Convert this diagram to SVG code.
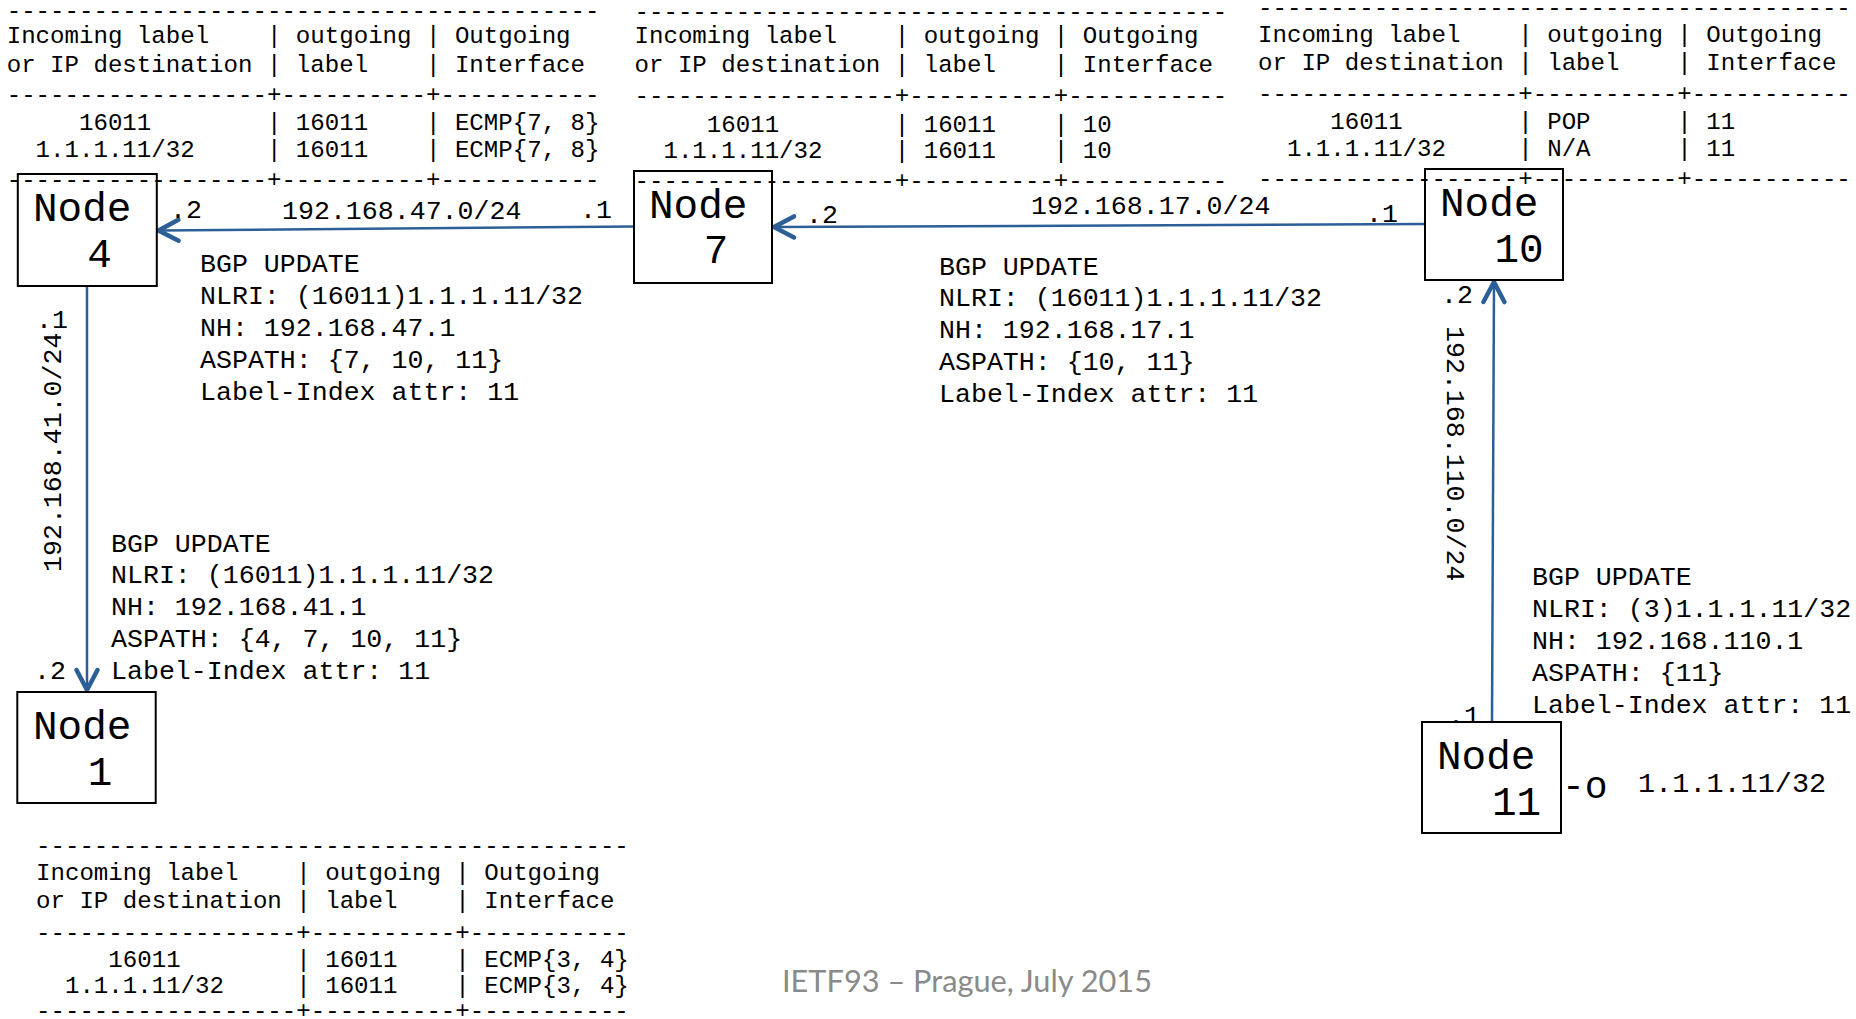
<svg xmlns="http://www.w3.org/2000/svg" width="1856" height="1019" viewBox="0 0 1856 1019">
<style>
.tb{font-family:"Liberation Mono","DejaVu Sans Mono",monospace;font-size:24.1px;fill:#000;white-space:pre}
.bgp{font-family:"Liberation Mono","DejaVu Sans Mono",monospace;font-size:26.6px;fill:#000;white-space:pre}
.lbl{font-family:"Liberation Mono","DejaVu Sans Mono",monospace;font-size:26.6px;fill:#000;white-space:pre}
.nd{font-family:"Liberation Mono","DejaVu Sans Mono",monospace;font-size:41px;fill:#000}
.box{fill:#fff;stroke:#000;stroke-width:2}
.ln{fill:none;stroke:#2C5F97;stroke-width:2.5}
.foot{font-family:Lato,"Open Sans","Liberation Sans",sans-serif;font-size:30px;fill:#8a8a8a}
</style>
<defs>
<marker id="arr" markerUnits="userSpaceOnUse" viewBox="-26 -16 30 32" markerWidth="30" markerHeight="32" refX="0" refY="0" orient="auto" overflow="visible">
<path d="M-20,-10.5 L0,0 L-20,10.5" fill="none" stroke="#2C5F97" stroke-width="4.5" stroke-linecap="round" stroke-linejoin="round"/>
</marker>
</defs>
<rect width="1856" height="1019" fill="#fff"/>

<g id="connectors">
<path class="ln" d="M634,226.5 L158.5,230.5" marker-end="url(#arr)"/>
<path class="ln" d="M1425,224 L774,227" marker-end="url(#arr)"/>
<path class="ln" d="M87,286 L87,690" marker-end="url(#arr)"/>
<path class="ln" d="M1492,722 L1494,282" marker-end="url(#arr)"/>
</g>

<g id="link-labels">
<text class="lbl" x="170" y="218">.2</text>
<text class="lbl" x="282" y="219">192.168.47.0/24</text>
<text class="lbl" x="580" y="218">.1</text>
<text class="lbl" x="806" y="223">.2</text>
<text class="lbl" x="1031" y="214">192.168.17.0/24</text>
<text class="lbl" x="1366" y="222">.1</text>
<text class="lbl" x="36" y="328">.1</text>
<text class="lbl" x="34" y="679">.2</text>
<text class="lbl" transform="translate(61,572) rotate(-90)">192.168.41.0/24</text>
<text class="lbl" x="1441" y="303">.2</text>
<text class="lbl" transform="translate(1447,326) rotate(90)">192.168.110.0/24</text>
<text class="lbl" x="1448" y="724">.1</text>
</g>

<g id="node4">
<rect class="box" x="17.8" y="174" width="139" height="112"/>
<text class="nd" x="33" y="221">Node</text>
<text class="nd" x="99.5" y="267" text-anchor="middle">4</text>
</g>
<g id="node7">
<rect class="box" x="634" y="171" width="138" height="112"/>
<text class="nd" x="649" y="218">Node</text>
<text class="nd" x="716" y="263" text-anchor="middle">7</text>
</g>
<g id="node10">
<rect class="box" x="1425" y="169" width="138" height="111"/>
<text class="nd" x="1440" y="216">Node</text>
<text class="nd" x="1519" y="262" text-anchor="middle">10</text>
</g>
<g id="node1">
<rect class="box" x="17.3" y="692" width="138.4" height="111"/>
<text class="nd" x="33" y="739">Node</text>
<text class="nd" x="100" y="785" text-anchor="middle">1</text>
</g>
<g id="node11">
<rect class="box" x="1422" y="722" width="139" height="111"/>
<text class="nd" x="1437" y="769">Node</text>
<text class="nd" x="1516.5" y="815" text-anchor="middle">11</text>
</g>

<g id="table-node4">
<text class="tb" x="6.7" y="17.5">-----------------------------------------</text>
<text class="tb" x="6.7" y="43">Incoming label    | outgoing | Outgoing</text>
<text class="tb" x="6.7" y="72">or IP destination | label    | Interface</text>
<text class="tb" x="6.7" y="101.5">------------------+----------+-----------</text>
<text class="tb" x="6.7" y="130">     16011        | 16011    | ECMP{7, 8}</text>
<text class="tb" x="6.7" y="157">  1.1.1.11/32     | 16011    | ECMP{7, 8}</text>
<text class="tb" x="6.7" y="186.5">------------------+----------+-----------</text>
</g>
<g id="table-node7">
<text class="tb" x="634.5" y="18.5">-----------------------------------------</text>
<text class="tb" x="634.5" y="43">Incoming label    | outgoing | Outgoing</text>
<text class="tb" x="634.5" y="72">or IP destination | label    | Interface</text>
<text class="tb" x="634.5" y="102.5">------------------+----------+-----------</text>
<text class="tb" x="634.5" y="132">     16011        | 16011    | 10</text>
<text class="tb" x="634.5" y="158">  1.1.1.11/32     | 16011    | 10</text>
<text class="tb" x="634.5" y="187.5">------------------+----------+-----------</text>
</g>
<g id="table-node10">
<text class="tb" x="1258" y="14.5">-----------------------------------------</text>
<text class="tb" x="1258" y="42">Incoming label    | outgoing | Outgoing</text>
<text class="tb" x="1258" y="70">or IP destination | label    | Interface</text>
<text class="tb" x="1258" y="100.5">------------------+----------+-----------</text>
<text class="tb" x="1258" y="129">     16011        | POP      | 11</text>
<text class="tb" x="1258" y="156">  1.1.1.11/32     | N/A      | 11</text>
<text class="tb" x="1258" y="185.5">------------------+----------+-----------</text>
</g>
<g id="table-node1">
<text class="tb" x="36" y="852.5">-----------------------------------------</text>
<text class="tb" x="36" y="880">Incoming label    | outgoing | Outgoing</text>
<text class="tb" x="36" y="908">or IP destination | label    | Interface</text>
<text class="tb" x="36" y="939.5">------------------+----------+-----------</text>
<text class="tb" x="36" y="967">     16011        | 16011    | ECMP{3, 4}</text>
<text class="tb" x="36" y="993">  1.1.1.11/32     | 16011    | ECMP{3, 4}</text>
<text class="tb" x="36" y="1018">------------------+----------+-----------</text>
</g>

<g id="bgp-7-4">
<text class="bgp" x="200" y="272">BGP UPDATE</text>
<text class="bgp" x="200" y="304">NLRI: (16011)1.1.1.11/32</text>
<text class="bgp" x="200" y="336">NH: 192.168.47.1</text>
<text class="bgp" x="200" y="368">ASPATH: {7, 10, 11}</text>
<text class="bgp" x="200" y="400">Label-Index attr: 11</text>
</g>
<g id="bgp-10-7">
<text class="bgp" x="939" y="275">BGP UPDATE</text>
<text class="bgp" x="939" y="306">NLRI: (16011)1.1.1.11/32</text>
<text class="bgp" x="939" y="338">NH: 192.168.17.1</text>
<text class="bgp" x="939" y="370">ASPATH: {10, 11}</text>
<text class="bgp" x="939" y="402">Label-Index attr: 11</text>
</g>
<g id="bgp-4-1">
<text class="bgp" x="111" y="552">BGP UPDATE</text>
<text class="bgp" x="111" y="583">NLRI: (16011)1.1.1.11/32</text>
<text class="bgp" x="111" y="615">NH: 192.168.41.1</text>
<text class="bgp" x="111" y="647">ASPATH: {4, 7, 10, 11}</text>
<text class="bgp" x="111" y="679">Label-Index attr: 11</text>
</g>
<g id="bgp-11-10">
<text class="bgp" x="1532" y="585">BGP UPDATE</text>
<text class="bgp" x="1532" y="617">NLRI: (3)1.1.1.11/32</text>
<text class="bgp" x="1532" y="649">NH: 192.168.110.1</text>
<text class="bgp" x="1532" y="681">ASPATH: {11}</text>
<text class="bgp" x="1532" y="713">Label-Index attr: 11</text>
</g>

<g id="prefix-11">
<text x="1562" y="798" style="font-family:'Liberation Mono',monospace;font-size:38px">-o</text>
<text x="1638" y="792" style="font-family:'Liberation Mono',monospace;font-size:28.5px">1.1.1.11/32</text>
</g>

<text class="foot" x="782" y="992" textLength="370" lengthAdjust="spacingAndGlyphs">IETF93 – Prague, July 2015</text>
</svg>
